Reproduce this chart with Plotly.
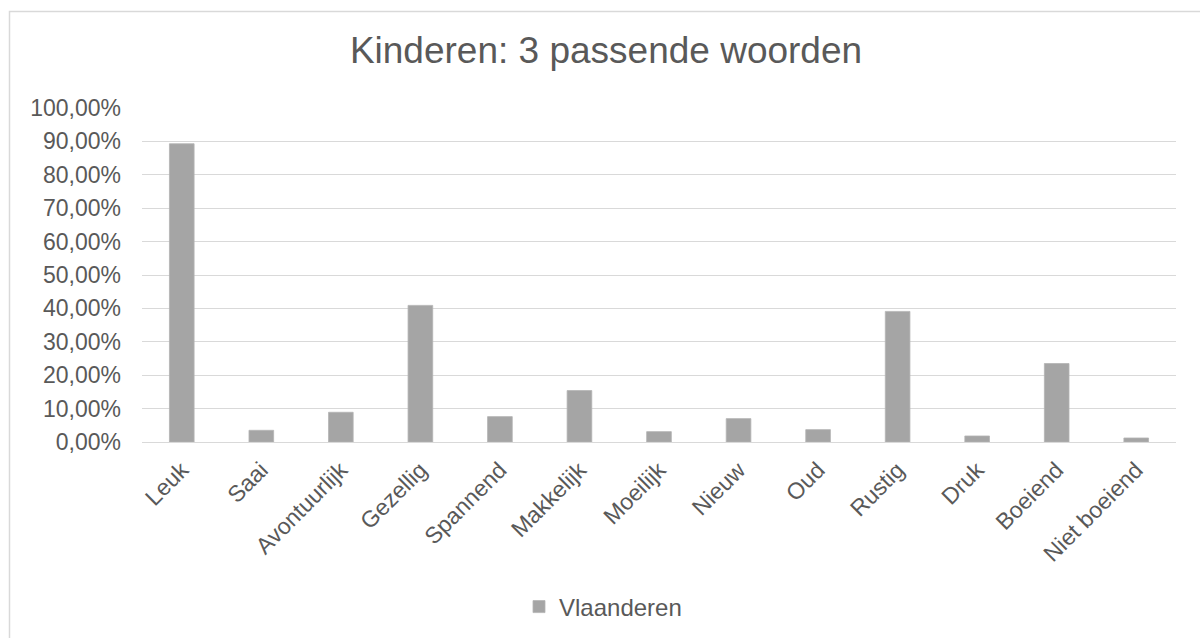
import plotly.graph_objects as go

categories = ["Leuk", "Saai", "Avontuurlijk", "Gezellig", "Spannend", "Makkelijk",
              "Moeilijk", "Nieuw", "Oud", "Rustig", "Druk", "Boeiend", "Niet boeiend"]
vlaanderen = [0.893, 0.035, 0.089, 0.409, 0.076, 0.154, 0.031, 0.070, 0.037,
              0.391, 0.018, 0.235, 0.012]
series_name = "Vlaanderen"
chart_title = "Kinderen: 3 passende woorden"
y_ticks = [i / 10 for i in range(11)]

W, H = 1200, 638
L, R, T, B = 142, 24, 108, 196
pw, ph = W - L - R, H - T - B

def px_x(x):
    return (x - L) / pw

def px_y(y):
    return (H - B - y) / ph

text_color = "#595959"
font_family = "Liberation Sans, Arial, sans-serif"

fig = go.Figure()
fig.add_trace(go.Bar(
    x=categories, y=vlaanderen, name=series_name,
    marker=dict(color="#A5A5A5", line=dict(color="#B4B4B4", width=0.8)),
    showlegend=True,
))

fig.update_layout(
    width=W, height=H,
    margin=dict(l=L, r=R, t=T, b=B, autoexpand=False),
    paper_bgcolor="white", plot_bgcolor="white",
    separators=",.",
    bargap=0.69,
    font=dict(family=font_family, color=text_color, size=23),
    title=dict(text=chart_title, x=606 / W, xanchor="center", y=1 - 50 / H,
               yanchor="middle", yref="container",
               font=dict(size=37, color=text_color, family=font_family)),
    showlegend=True,
    legend=dict(orientation="h", x=px_x(519), xanchor="left",
                y=px_y(607), yanchor="middle", itemwidth=30,
                font=dict(size=24, color=text_color, family=font_family),
                bgcolor="rgba(0,0,0,0)"),
    xaxis=dict(tickangle=-45, showgrid=False, showline=False, ticks="",
               tickfont=dict(size=23, color=text_color), ticklabelstandoff=9),
    yaxis=dict(range=[0, 1], tickvals=y_ticks, tickformat=".2%",
               showgrid=True, gridcolor="#D9D9D9", gridwidth=1,
               zeroline=True, zerolinecolor="#D9D9D9", zerolinewidth=1,
               showline=False, ticks="", ticklabelstandoff=20,
               tickfont=dict(size=23, color=text_color)),
    shapes=[dict(type="rect", xref="paper", yref="paper",
                 x0=px_x(9.5), x1=px_x(1210), y0=px_y(650), y1=px_y(11.5),
                 line=dict(color="#D9D9D9", width=1.5), fillcolor="rgba(0,0,0,0)",
                 layer="below")],
)

fig.write_html("out.html",
               config={"displayModeBar": False},
               post_script="document.body.style.margin='0';document.body.style.overflow='hidden';")
